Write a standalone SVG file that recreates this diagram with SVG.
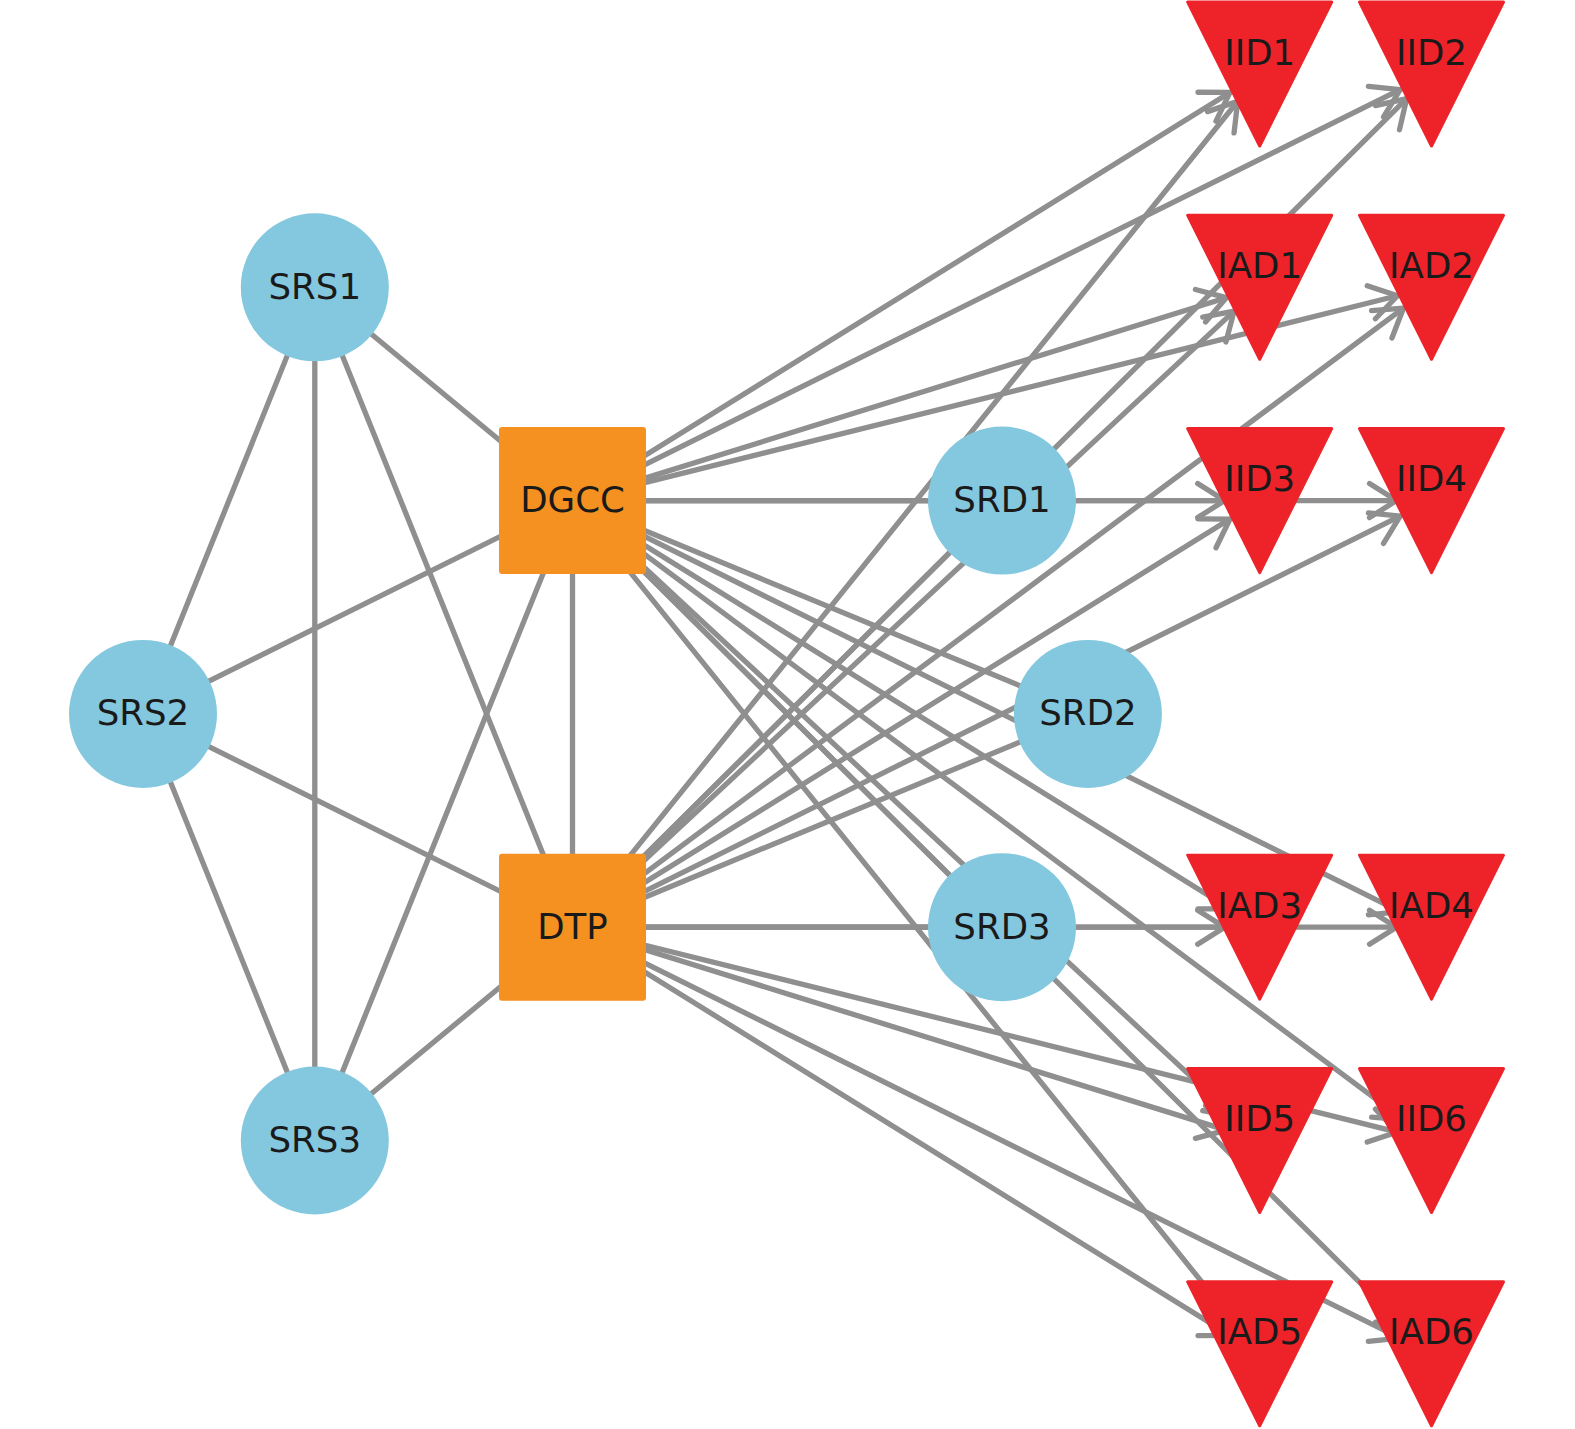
<svg xmlns="http://www.w3.org/2000/svg" width="1575" height="1429" viewBox="0 0 1575 1429">
<defs>
<marker id="arr" markerUnits="userSpaceOnUse" orient="auto" refX="0" refY="0" markerWidth="1" markerHeight="1" style="overflow:visible">
<path d="M-27,-17 L0,0 L-27,17" fill="none" stroke="#8f8f8f" stroke-width="5.3" stroke-linecap="round" stroke-linejoin="round"/>
</marker>
</defs>
<style>
.e { stroke:#8f8f8f; stroke-width:5.3; fill:none; stroke-linecap:round; }
.d { marker-end:url(#arr); }
.c { fill:#84c8df; }
.s { fill:#f49120; }
.t { fill:#ee2329; stroke:#ee2329; stroke-width:3; stroke-linejoin:round; }
text { font-family:"DejaVu Sans", sans-serif; font-size:35.6px; fill:#1a1a1a; text-anchor:middle; }
</style>
<rect width="1575" height="1429" fill="#ffffff"/>
<g id="connectors">
<line class="e" x1="314.8" y1="287.3" x2="143" y2="713.9"/>
<line class="e" x1="314.8" y1="287.3" x2="314.8" y2="1140.5"/>
<line class="e" x1="314.8" y1="287.3" x2="572.5" y2="500.6"/>
<line class="e" x1="314.8" y1="287.3" x2="572.5" y2="927.2"/>
<line class="e" x1="143" y1="713.9" x2="314.8" y2="1140.5"/>
<line class="e" x1="143" y1="713.9" x2="572.5" y2="500.6"/>
<line class="e" x1="143" y1="713.9" x2="572.5" y2="927.2"/>
<line class="e" x1="314.8" y1="1140.5" x2="572.5" y2="500.6"/>
<line class="e" x1="314.8" y1="1140.5" x2="572.5" y2="927.2"/>
<line class="e" x1="572.5" y1="500.6" x2="572.5" y2="927.2"/>
<line class="e" x1="572.5" y1="500.6" x2="1002" y2="500.6"/>
<line class="e" x1="572.5" y1="500.6" x2="1087.9" y2="713.9"/>
<line class="e" x1="572.5" y1="500.6" x2="1002" y2="927.2"/>
<line class="e" x1="572.5" y1="927.2" x2="1002" y2="500.6"/>
<line class="e" x1="572.5" y1="927.2" x2="1087.9" y2="713.9"/>
<line class="e" x1="572.5" y1="927.2" x2="1002" y2="927.2"/>
<line class="e d" x1="572.5" y1="500.6" x2="1229.96" y2="92.46"/>
<line class="e d" x1="572.5" y1="500.6" x2="1400.15" y2="89.57"/>
<line class="e d" x1="572.5" y1="500.6" x2="1226.27" y2="297.68"/>
<line class="e d" x1="572.5" y1="500.6" x2="1397.53" y2="295.73"/>
<line class="e d" x1="572.5" y1="500.6" x2="1224.7" y2="500.6"/>
<line class="e d" x1="572.5" y1="500.6" x2="1396.5" y2="500.6"/>
<line class="e d" x1="572.5" y1="500.6" x2="1229.96" y2="908.74"/>
<line class="e d" x1="572.5" y1="500.6" x2="1400.15" y2="911.63"/>
<line class="e d" x1="572.5" y1="500.6" x2="1234.08" y2="1116.65"/>
<line class="e d" x1="572.5" y1="500.6" x2="1403.43" y2="1119.59"/>
<line class="e d" x1="572.5" y1="500.6" x2="1237.74" y2="1326.54"/>
<line class="e d" x1="572.5" y1="500.6" x2="1406.67" y2="1329.14"/>
<line class="e d" x1="572.5" y1="927.2" x2="1237.74" y2="101.26"/>
<line class="e d" x1="572.5" y1="927.2" x2="1406.67" y2="98.66"/>
<line class="e d" x1="572.5" y1="927.2" x2="1234.08" y2="311.15"/>
<line class="e d" x1="572.5" y1="927.2" x2="1403.43" y2="308.21"/>
<line class="e d" x1="572.5" y1="927.2" x2="1229.96" y2="519.06"/>
<line class="e d" x1="572.5" y1="927.2" x2="1400.15" y2="516.17"/>
<line class="e d" x1="572.5" y1="927.2" x2="1224.7" y2="927.2"/>
<line class="e d" x1="572.5" y1="927.2" x2="1396.5" y2="927.2"/>
<line class="e d" x1="572.5" y1="927.2" x2="1226.27" y2="1130.12"/>
<line class="e d" x1="572.5" y1="927.2" x2="1397.53" y2="1132.07"/>
<line class="e d" x1="572.5" y1="927.2" x2="1229.96" y2="1335.34"/>
<line class="e d" x1="572.5" y1="927.2" x2="1400.15" y2="1338.23"/>
</g>
<g id="SRS1"><circle class="c" cx="314.8" cy="287.3" r="74"/><text x="314.8" y="298.8">SRS1</text></g>
<g id="SRS2"><circle class="c" cx="143" cy="713.9" r="74"/><text x="143" y="725.4">SRS2</text></g>
<g id="SRS3"><circle class="c" cx="314.8" cy="1140.5" r="74"/><text x="314.8" y="1152">SRS3</text></g>
<g id="DGCC"><rect class="s" x="499" y="427.1" width="147" height="147" rx="3"/><text x="572.5" y="512.1">DGCC</text></g>
<g id="DTP"><rect class="s" x="499" y="853.7" width="147" height="147" rx="3"/><text x="572.5" y="938.7">DTP</text></g>
<g id="SRD1"><circle class="c" cx="1002" cy="500.6" r="74"/><text x="1002" y="512.1">SRD1</text></g>
<g id="SRD2"><circle class="c" cx="1087.9" cy="713.9" r="74"/><text x="1087.9" y="725.4">SRD2</text></g>
<g id="SRD3"><circle class="c" cx="1002" cy="927.2" r="74"/><text x="1002" y="938.7">SRD3</text></g>
<g id="IID1"><polygon class="t" points="1187.7,2 1331.7,2 1259.7,146"/><text x="1259.7" y="64.5">IID1</text></g>
<g id="IID2"><polygon class="t" points="1359.5,2 1503.5,2 1431.5,146"/><text x="1431.5" y="64.5">IID2</text></g>
<g id="IAD1"><polygon class="t" points="1187.7,215.3 1331.7,215.3 1259.7,359.3"/><text x="1259.7" y="277.8">IAD1</text></g>
<g id="IAD2"><polygon class="t" points="1359.5,215.3 1503.5,215.3 1431.5,359.3"/><text x="1431.5" y="277.8">IAD2</text></g>
<g id="IID3"><polygon class="t" points="1187.7,428.6 1331.7,428.6 1259.7,572.6"/><text x="1259.7" y="491.1">IID3</text></g>
<g id="IID4"><polygon class="t" points="1359.5,428.6 1503.5,428.6 1431.5,572.6"/><text x="1431.5" y="491.1">IID4</text></g>
<g id="IAD3"><polygon class="t" points="1187.7,855.2 1331.7,855.2 1259.7,999.2"/><text x="1259.7" y="917.7">IAD3</text></g>
<g id="IAD4"><polygon class="t" points="1359.5,855.2 1503.5,855.2 1431.5,999.2"/><text x="1431.5" y="917.7">IAD4</text></g>
<g id="IID5"><polygon class="t" points="1187.7,1068.5 1331.7,1068.5 1259.7,1212.5"/><text x="1259.7" y="1131">IID5</text></g>
<g id="IID6"><polygon class="t" points="1359.5,1068.5 1503.5,1068.5 1431.5,1212.5"/><text x="1431.5" y="1131">IID6</text></g>
<g id="IAD5"><polygon class="t" points="1187.7,1281.8 1331.7,1281.8 1259.7,1425.8"/><text x="1259.7" y="1344.3">IAD5</text></g>
<g id="IAD6"><polygon class="t" points="1359.5,1281.8 1503.5,1281.8 1431.5,1425.8"/><text x="1431.5" y="1344.3">IAD6</text></g>
</svg>
